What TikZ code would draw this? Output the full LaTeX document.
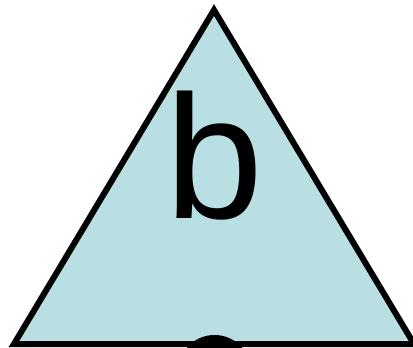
\documentclass[tikz,border=0pt]{standalone}
\usepackage{fontspec}
\setmainfont{Liberation Sans}
\definecolor{tribg}{HTML}{B9DFE3}
\begin{document}
\begin{tikzpicture}[
    x=1pt, y=-1pt,
    tri/.style={draw=black, fill=tribg, line width=6pt, line join=miter},
    lbl/.style={inner sep=0pt, anchor=base, font=\fontsize{176}{176}\selectfont},
    knob/.style={fill=black}
]
\useasboundingbox (0,0) rectangle (413,348);
\clip (0,0) rectangle (413,348);
% --- triangle ---
\coordinate (top) at (214,10);
\coordinate (bl) at (14,344);
\coordinate (br) at (414,344);
\draw[tri] (top) -- (bl) -- (br) -- cycle;
\node[lbl] (letter) at (214,218) {b};
% --- part below ---
\coordinate (kc) at (214.5,371.5);
\fill[knob] (kc) circle (36.5);
\end{tikzpicture}
\end{document}
